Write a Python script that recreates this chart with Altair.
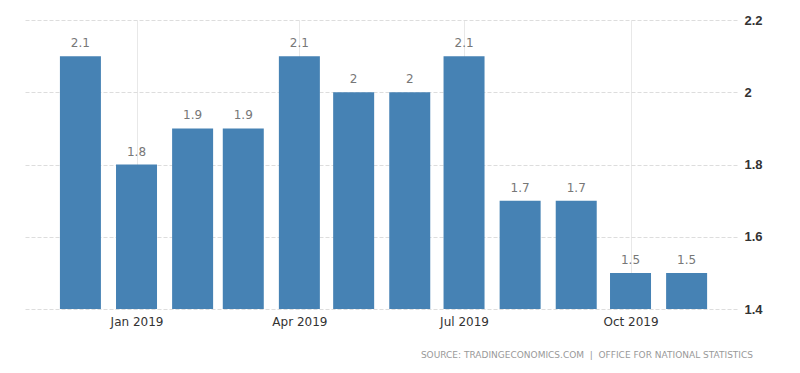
import altair as alt
import pandas as pd

months = ["2018-12-01", "2019-01-01", "2019-02-01", "2019-03-01", "2019-04-01", "2019-05-01",
          "2019-06-01", "2019-07-01", "2019-08-01", "2019-09-01", "2019-10-01", "2019-11-01"]
values = [2.1, 1.8, 1.9, 1.9, 2.1, 2.0, 2.0, 2.1, 1.7, 1.7, 1.5, 1.5]
labels = ["2.1", "1.8", "1.9", "1.9", "2.1", "2", "2", "2.1", "1.7", "1.7", "1.5", "1.5"]
y_ticks = [1.4, 1.6, 1.8, 2.0, 2.2]
source_text = "SOURCE: TRADINGECONOMICS.COM\u00a0\u00a0|\u00a0\u00a0OFFICE FOR NATIONAL STATISTICS"

df = pd.DataFrame({"date": months, "value": values, "label": labels})

FONT = "DejaVu Sans"

x_enc = alt.X(
    "date:T",
    scale=alt.Scale(
        type="utc",
        domain=[alt.DateTime(year=2018, month=11, date=2, hours=14, utc=True),
                alt.DateTime(year=2019, month=11, date=26, hours=2, utc=True)],
    ),
    axis=alt.Axis(
        values=[alt.DateTime(year=2019, month=m, date=1, utc=True) for m in [1, 4, 7, 10]],
        labelExpr="utcFormat(datum.value, '%b %Y')",
        title=None,
        grid=True,
        gridColor="#e8e8e8",
        domain=False,
        ticks=False,
        labelFont=FONT,
        labelFontSize=12,
        labelColor="#333333",
        labelPadding=7,
    ),
)

y_enc = alt.Y(
    "value:Q",
    scale=alt.Scale(domain=[1.4, 2.2], zero=False, nice=False),
    axis=alt.Axis(
        orient="right",
        values=y_ticks,
        format=".1~f",
        title=None,
        grid=True,
        gridColor="#dddddd",
        gridDash=[4, 2],
        domain=False,
        ticks=False,
        labelFont="Liberation Sans",
        labelFontSize=13,
        labelFontWeight="bold",
        labelColor="#333333",
        labelPadding=7,
    ),
)

base = alt.Chart(df)

bars = base.mark_bar(width=41, color="#4682b4").encode(
    x=x_enc,
    y=y_enc,
    y2=alt.datum(1.4),
)

text = base.mark_text(dy=-13, font=FONT, fontSize=12, color="#777777").encode(
    x=x_enc,
    y=y_enc,
    text="label:N",
)

source = alt.Chart(pd.DataFrame({"t": [source_text]})).mark_text(
    align="right", baseline="middle", font=FONT, fontSize=9, color="#999999"
).encode(
    x=alt.value(729),
    y=alt.value(335),
    text="t:N",
)

chart = alt.layer(bars, text, source).properties(
    width=713,
    height=289,
    padding={"left": 16, "top": 6, "right": 5, "bottom": 5},
    background="white",
).configure_view(stroke=None)

chart.save("out.html", embed_options={"renderer": "svg", "actions": False})
